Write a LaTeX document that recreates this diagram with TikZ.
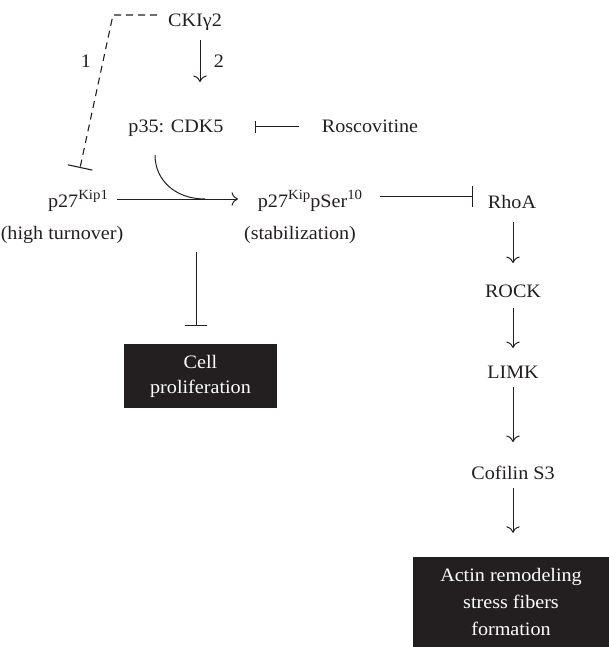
\documentclass[tikz,border=0pt]{standalone}
\usepackage{fontspec}
\setmainfont[FakeStretch=1.06]{Liberation Serif}
\usetikzlibrary{arrows.meta,calc}
\definecolor{ink}{HTML}{231F20}
\newcommand{\kipsup}[1]{\raisebox{7.5pt}{\fontsize{14}{14}\selectfont #1}}
\begin{document}
\begin{tikzpicture}[x=1pt,y=-1pt,
  every node/.style={font=\fontsize{19}{25}\selectfont, inner sep=0pt, text=ink},
  lbl/.style={anchor=base},
  conn/.style={line width=1pt, draw=ink},
  act/.style={conn, -{To[scale=1.7]}},
  inh/.style={conn, -{Bar[width=#1]}},
  dashline/.style={conn, line width=1.1pt, dash pattern=on 7pt off 5pt},
  darkbox/.style={fill=ink, text=white, align=center}
]
\useasboundingbox (0,0) rectangle (609,647);

% text nodes
\node[lbl] (cki)  at (195,27)  {CKIγ2};
\node[lbl] (p35)  at (176,133) {p35: CDK5};
\node[lbl] (rosc) at (370,133) {Roscovitine};
\node[lbl] (p27)  at (78,207)  {p27\kipsup{Kip1}};
\node[lbl] (ht)   at (62,239)  {(high turnover)};
\node[lbl] (p27s) at (310,207) {p27\kipsup{Kip}pSer\kipsup{10}};
\node[lbl] (stab) at (300,239) {(stabilization)};
\node[lbl] (rhoa) at (512,208) {RhoA};
\node[lbl] (rock) at (513,297) {ROCK};
\node[lbl] (limk) at (513,378) {LIMK};
\node[lbl] (cof)  at (513,479) {Cofilin S3};
\node[lbl] (one)  at (86,68)   {1};
\node[lbl] (two)  at (219,68)  {2};

% boxes
\node[darkbox, minimum width=153pt, minimum height=64pt, font=\fontsize{19}{25}\selectfont] (cell) at (200.5,376) {Cell\\proliferation};
\node[darkbox, minimum width=196pt, minimum height=90pt, font=\fontsize{19}{27}\selectfont] (actin) at (511,602) {Actin remodeling\\stress fibers\\formation};

% dashed inhibition CKIgamma2 -> p27
\coordinate (d0) at ($(cki.base)+(-38,-12)$);
\coordinate (d1) at ($(cki.base)+(-82,-12)$);
\coordinate (d2) at ($(p27.base)+(2,-39)$);
\draw[dashline, -{Bar[width=25pt]}] (d0) -- (d1) -- (d2);

% CKIgamma2 -> p35:CDK5
\draw[act] ($(cki.base)+(5,13)$) -- ($(p35.base)+(24,-51)$);

% Roscovitine -| p35:CDK5
\draw[inh=12pt] ($(rosc.base)+(-71,-6)$) -- ($(p35.base)+(79,-6)$);

% p27 -> p27 pSer10
\draw[act] ($(p27.base)+(39,-8)$) -- ($(p27s.base)+(-72,-8)$);
% catalysis curve from p35:CDK5
\draw[conn] ($(p35.base)+(-21,22)$) .. controls ($(p35.base)+(-21,47)$) and ($(p35.base)+(-1,66)$) .. ($(p35.base)+(29,66)$);

% p27 pSer10 -| RhoA
\draw[inh=21pt] ($(p27s.base)+(70,-11)$) -- ($(rhoa.base)+(-39,-12)$);

% inhibition of cell proliferation
\draw[inh=22pt] ($(cell.north)+(-4.5,-92)$) -- ($(cell.north)+(-4.5,-18)$);

% right column
\draw[act] ($(rhoa.base)+(1,14)$) -- ($(rock.base)+(0,-34)$);
\draw[act] ($(rock.base)+(0,11)$) -- ($(limk.base)+(0,-30)$);
\draw[act] ($(limk.base)+(0,9)$) -- ($(cof.base)+(0,-37)$);
\draw[act] ($(cof.base)+(0,9)$) -- ($(actin.north)+(2,-24)$);
\end{tikzpicture}
\end{document}
